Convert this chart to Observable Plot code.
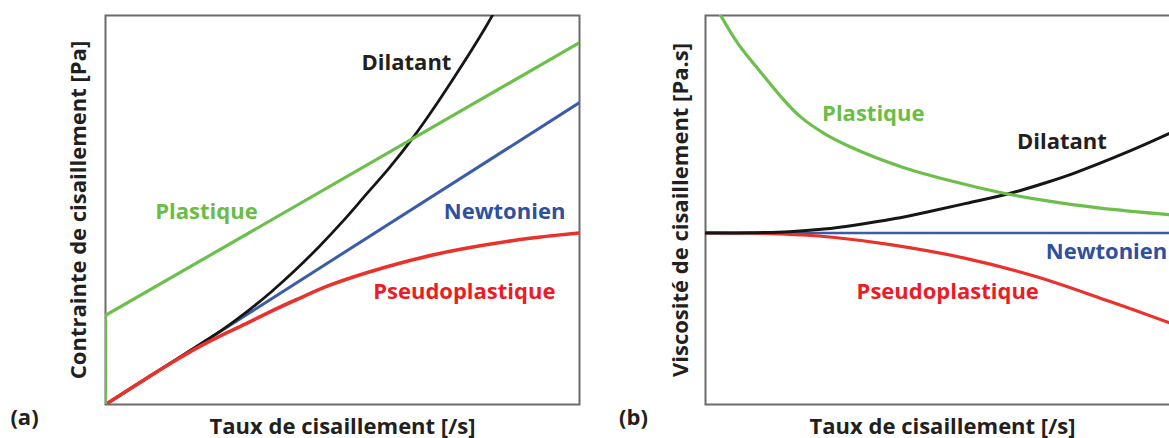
<!DOCTYPE html>
<html><head><meta charset="utf-8">
<script src="https://cdn.jsdelivr.net/npm/d3@7"></script>
<script src="https://cdn.jsdelivr.net/npm/@observablehq/plot@0.6"></script>
<style>
html,body{margin:0;padding:0;background:#fff;}
#wrap{position:relative;width:1169px;height:438px;overflow:hidden;background:#fff;}
#wrap svg{position:absolute;top:0;}
</style></head><body><div id="wrap"></div>
<script>
// ---- Panel (a): shear stress vs shear rate (normalised units)
const aNewtonX = [0, 1];
const aNewtonY = [0, 0.776];
const aPlasticX = [0, 0, 1];
const aPlasticY = [0, 0.229, 0.93];
const aDilatantX = [0, 0.1, 0.2, 0.25, 0.3, 0.35, 0.4, 0.45, 0.5, 0.55, 0.6, 0.65, 0.7, 0.75, 0.8, 0.83];
const aDilatantY = [0, 0.0776, 0.155, 0.195, 0.24, 0.29, 0.345, 0.405, 0.47, 0.54, 0.61, 0.688, 0.775, 0.868, 0.966, 1.03];
const aPseudoX = [0, 0.1, 0.15, 0.2, 0.25, 0.3, 0.35, 0.4, 0.476, 0.59, 0.7, 0.8, 0.9, 1];
const aPseudoY = [0, 0.0776, 0.115, 0.15, 0.181, 0.21, 0.24, 0.268, 0.308, 0.353, 0.387, 0.41, 0.428, 0.441];

// ---- Panel (b): viscosity vs shear rate
const bNewtonX = [0, 1];
const bNewtonY = [0.441, 0.441];
const bPlasticX = [0.032, 0.07, 0.116, 0.16, 0.2, 0.25, 0.306, 0.411, 0.517, 0.622, 0.728, 0.833, 0.979, 1];
const bPlasticY = [1.0, 0.925, 0.855, 0.79, 0.74, 0.697, 0.662, 0.612, 0.575, 0.545, 0.522, 0.505, 0.488, 0.486];
const bDilatantX = [0, 0.1, 0.177, 0.25, 0.314, 0.4, 0.468, 0.55, 0.643, 0.72, 0.774, 0.888, 0.979, 1];
const bDilatantY = [0.441, 0.4415, 0.444, 0.451, 0.461, 0.478, 0.495, 0.517, 0.543, 0.571, 0.593, 0.648, 0.697, 0.709];
const bPseudoX = [0, 0.122, 0.2, 0.268, 0.39, 0.544, 0.697, 0.85, 0.979, 1];
const bPseudoY = [0.441, 0.44, 0.436, 0.43, 0.411, 0.377, 0.329, 0.266, 0.21, 0.2];

// ---- Curve labels
const labelNames = ["Dilatant", "Plastique", "Newtonien", "Pseudoplastique"];
const aLabelX = [0.635, 0.213, 0.842, 0.757];
const aLabelY = [0.879, 0.496, 0.496, 0.290];
const bLabelX = [0.752, 0.354, 0.846, 0.511];
const bLabelY = [0.674, 0.748, 0.393, 0.290];

const xTitle = "Taux de cisaillement [/s]";
const aYTitle = "Contrainte de cisaillement [Pa]";
const bYTitle = "Viscosité de cisaillement [Pa.s]";
const panelTags = ["(a)", "(b)"];

const lineColor = {Dilatant: "#161616", Plastique: "#6cbf4b", Newtonien: "#3b5ca8", Pseudoplastique: "#e8322b"};
const textColor = {Dilatant: "#231f20", Plastique: "#6abd45", Newtonien: "#2f4f9f", Pseudoplastique: "#ed1c24"};

const zip = (xs, ys) => xs.map((x, i) => ({x, y: ys[i]}));
const FONT = "'Open Sans', sans-serif";

function panel({series, labels, yTitle, tag, ydx, tagdx}) {
  const labelData = labels.x.map((x, i) => ({x, y: labels.y[i], name: labelNames[i]}));
  return Plot.plot({
    width: 600, height: 438,
    marginLeft: 105, marginRight: 21, marginTop: 15, marginBottom: 34,
    x: {domain: [0, 1], axis: null},
    y: {domain: [0, 1], axis: null},
    style: {fontFamily: FONT, overflow: "visible", background: "transparent"},
    marks: [
      Plot.frame({stroke: "#6b6b6b", strokeWidth: 2}),
      ...series.map(s => Plot.line(s.data, {x: "x", y: "y", stroke: lineColor[s.name], strokeWidth: s.w, curve: s.curve, clip: true})),
      Plot.text(labelData, {x: "x", y: "y", text: "name", fill: d => textColor[d.name], fontSize: 22, fontWeight: 700, fontFamily: FONT}),
      Plot.text([xTitle], {frameAnchor: "bottom", dy: 29, textAnchor: "middle", fontSize: 22, fontWeight: 700, fill: "#231f20", fontFamily: FONT}),
      Plot.text([yTitle], {frameAnchor: "left", dx: ydx, rotate: -90, textAnchor: "middle", fontSize: 22, fontWeight: 700, fill: "#231f20", fontFamily: FONT}),
      Plot.text([tag], {frameAnchor: "bottom-left", dx: tagdx, dy: 20, textAnchor: "middle", fontSize: 22, fontWeight: 700, fill: "#231f20", fontFamily: FONT})
    ]
  });
}

const svgA = panel({
  series: [
    {name: "Newtonien", data: zip(aNewtonX, aNewtonY), w: 3, curve: "linear"},
    {name: "Dilatant", data: zip(aDilatantX, aDilatantY), w: 2.8, curve: "catmull-rom"},
    {name: "Pseudoplastique", data: zip(aPseudoX, aPseudoY), w: 3.6, curve: "catmull-rom"},
    {name: "Plastique", data: zip(aPlasticX, aPlasticY), w: 3.2, curve: "linear"}
  ],
  labels: {x: aLabelX, y: aLabelY}, yTitle: aYTitle, tag: panelTags[0], ydx: -27, tagdx: -81
});
const svgB = panel({
  series: [
    {name: "Newtonien", data: zip(bNewtonX, bNewtonY), w: 2.4, curve: "linear"},
    {name: "Pseudoplastique", data: zip(bPseudoX, bPseudoY), w: 3.2, curve: "catmull-rom"},
    {name: "Dilatant", data: zip(bDilatantX, bDilatantY), w: 3, curve: "catmull-rom"},
    {name: "Plastique", data: zip(bPlasticX, bPlasticY), w: 3.2, curve: "catmull-rom"}
  ],
  labels: {x: bLabelX, y: bLabelY}, yTitle: bYTitle, tag: panelTags[1], ydx: -25, tagdx: -72
});
svgA.style.left = "0px";
svgB.style.left = "600px";
const wrap = document.getElementById("wrap");
wrap.appendChild(svgA);
wrap.appendChild(svgB);
</script></body></html>
